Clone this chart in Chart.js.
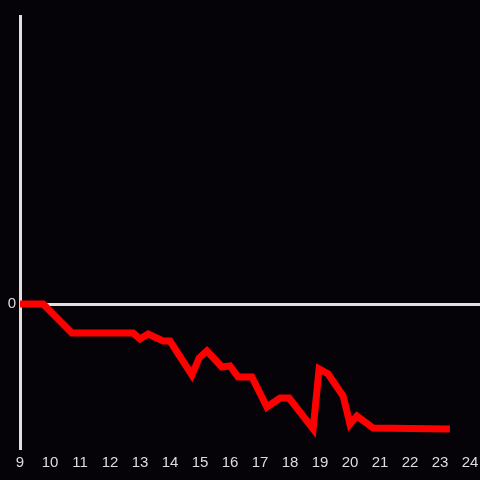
<!DOCTYPE html>
<html><head><meta charset="utf-8">
<script src="https://cdn.jsdelivr.net/npm/chart.js@4/dist/chart.umd.min.js"></script>
<style>html,body{margin:0;padding:0;background:#050308;}canvas{display:block;}</style>
</head><body>
<canvas id="c" width="480" height="480"></canvas>
<script>
const hours = [9, 9.77, 10.73, 12.77, 13.0, 13.27, 13.77, 14.0, 14.73, 14.97, 15.23, 15.73, 16.0, 16.27, 16.73, 17.23, 17.67, 17.97, 18.77, 18.97, 19.27, 19.77, 20.0, 20.23, 20.77, 23.33];
const values = [0, 0, -2.9, -2.9, -3.5, -3.0, -3.7, -3.7, -7.1, -5.4, -4.7, -6.3, -6.2, -7.3, -7.3, -10.3, -9.4, -9.4, -12.5, -6.5, -7.0, -9.2, -12.0, -11.2, -12.4, -12.5];
const xTicks = [9,10,11,12,13,14,15,16,17,18,19,20,21,22,23,24];
const yTicks = [0];

new Chart(document.getElementById('c'), {
  type: 'line',
  data: {
    datasets: [{
      data: hours.map((h, i) => ({x: h, y: values[i]})),
      borderColor: '#ff0000',
      borderWidth: 7,
      pointRadius: 0,
      tension: 0,
      fill: false
    }]
  },
  options: {
    responsive: false,
    animation: false,
    layout: {padding: {top: 16, left: 0, right: 0, bottom: 0}},
    plugins: {legend: {display: false}, tooltip: {enabled: false}},
    scales: {
      x: {
        type: 'linear', min: 9, max: 24.333,
        afterBuildTicks: s => { s.ticks = xTicks.map(v => ({value: v})); },
        afterFit: s => { s.height = 32; s.paddingLeft = 0; s.paddingRight = 0; },
        grid: {display: false, drawTicks: false},
        border: {display: false},
        ticks: {color: '#dddddd', font: {family: 'Liberation Sans', size: 15}, padding: 6, maxRotation: 0, autoSkip: false, callback: v => String(v)}
      },
      y: {
        type: 'linear', min: -14.4, max: 28.8,
        afterBuildTicks: s => { s.ticks = yTicks.map(v => ({value: v})); },
        afterFit: s => { s.width = 20; s.paddingTop = 0; s.paddingBottom = 0; },
        grid: {color: '#e0e0e0', lineWidth: 3, drawTicks: false},
        border: {display: true, color: '#e0e0e0', width: 3},
        ticks: {color: '#dddddd', font: {family: 'Liberation Sans', size: 15}, padding: 4, callback: v => String(v)}
      }
    }
  }
});
</script>
</body></html>
